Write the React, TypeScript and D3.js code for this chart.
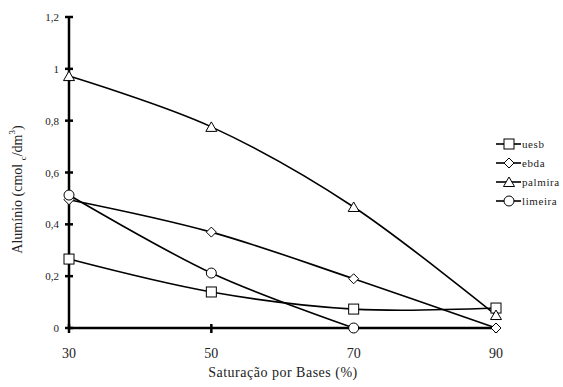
import * as d3 from 'd3'
import { useEffect, useRef } from 'react'

const saturation = [30, 50, 70, 90]
const xTicks = [30, 50, 70, 90]
const yTicks = [0, 0.2, 0.4, 0.6, 0.8, 1, 1.2]

const uesb = [0.266, 0.139, 0.073, 0.077]
const ebda = [0.495, 0.37, 0.19, 0]
const palmira = [0.972, 0.776, 0.467, 0.05]
const limeira = [0.513, 0.212, 0]

const seriesNames = ['uesb', 'ebda', 'palmira', 'limeira']
const seriesValues = [uesb, ebda, palmira, limeira]
const seriesShapes = ['square', 'diamond', 'triangle', 'circle']

const drawMarker = (g, shape: string, cx: number, cy: number) => {
    const common = (sel) => sel.attr('fill', '#fff').attr('stroke', '#000').attr('stroke-width', 1)
    if (shape === 'square') {
        common(g.append('rect').attr('x', cx - 5).attr('y', cy - 5).attr('width', 10).attr('height', 10))
    } else if (shape === 'circle') {
        common(g.append('circle').attr('cx', cx).attr('cy', cy).attr('r', 5))
    } else if (shape === 'diamond') {
        common(g.append('path').attr('d', `M${cx},${cy - 5}L${cx + 5},${cy}L${cx},${cy + 5}L${cx - 5},${cy}Z`))
    } else {
        common(g.append('path').attr('d', `M${cx},${cy - 5}L${cx + 5.5},${cy + 4.5}L${cx - 5.5},${cy + 4.5}Z`))
    }
}

const createLineChart = (el: SVGSVGElement) => {
    const svg = d3.select(el)
    svg.selectAll('*').remove()

    const x = d3.scaleLinear().domain([30, 90]).range([69, 496])
    const y = d3.scaleLinear().domain([0, 1.2]).range([328, 17])

    // Y axis
    svg.append('line')
        .attr('x1', x(30)).attr('x2', x(30))
        .attr('y1', y(1.2)).attr('y2', y(0))
        .attr('stroke', '#000').attr('stroke-width', 2.5)
    yTicks.forEach(t => {
        svg.append('line')
            .attr('x1', x(30) - 4).attr('x2', x(30) + 4)
            .attr('y1', y(t)).attr('y2', y(t))
            .attr('stroke', '#000').attr('stroke-width', 2.5)
        svg.append('text')
            .attr('x', x(30) - 10).attr('y', y(t) + 4)
            .attr('text-anchor', 'end')
            .attr('font-size', '11px')
            .text(String(t).replace('.', ','))
    })

    // X axis
    svg.append('line')
        .attr('x1', x(30)).attr('x2', x(90))
        .attr('y1', y(0)).attr('y2', y(0))
        .attr('stroke', '#000').attr('stroke-width', 2.5)
    xTicks.forEach(t => {
        svg.append('line')
            .attr('x1', x(t)).attr('x2', x(t))
            .attr('y1', y(0) - 4).attr('y2', y(0) + 5)
            .attr('stroke', '#000').attr('stroke-width', 2.5)
        svg.append('text')
            .attr('x', x(t)).attr('y', y(0) + 30)
            .attr('text-anchor', 'middle')
            .attr('font-size', '14px')
            .text(t)
    })

    svg.append('text')
        .attr('x', 283).attr('y', 377)
        .attr('text-anchor', 'middle')
        .attr('font-size', '14px')
        .attr('letter-spacing', '0.5px')
        .text('Saturação por Bases (%)')

    // Y title with sub/superscript
    const yt = svg.append('text')
        .attr('transform', `translate(22,${y(0.6) + 17}) rotate(-90)`)
        .attr('text-anchor', 'middle')
        .attr('font-size', '14px')
    yt.append('tspan').text('Alumínio (cmol ')
    yt.append('tspan').attr('font-size', '9px').attr('dy', 4).text('c')
    yt.append('tspan').attr('dy', -4).text('/dm')
    yt.append('tspan').attr('font-size', '9px').attr('dy', -7).text('3')
    yt.append('tspan').attr('dy', 7).text(')')

    // Series
    const line = d3.line<number>()
        .x((d, i) => x(saturation[i]))
        .y(d => y(d))
        .curve(d3.curveCardinal.tension(0))

    seriesValues.forEach(vals => {
        svg.append('path')
            .datum(vals)
            .attr('d', line)
            .attr('fill', 'none')
            .attr('stroke', '#000')
            .attr('stroke-width', 1.6)
    })
    seriesValues.forEach((vals, si) => {
        vals.forEach((v, i) => drawMarker(svg, seriesShapes[si], x(saturation[i]), y(v)))
    })

    // Legend
    const legendY = [144, 163, 182, 201]
    seriesNames.forEach((name, i) => {
        svg.append('line')
            .attr('x1', 496).attr('x2', 521)
            .attr('y1', legendY[i]).attr('y2', legendY[i])
            .attr('stroke', '#000').attr('stroke-width', 1.6)
        drawMarker(svg, seriesShapes[i], 509, legendY[i])
        svg.append('text')
            .attr('x', 522).attr('y', legendY[i] + 4)
            .attr('font-size', '11px')
            .attr('letter-spacing', '0.6px')
            .text(name)
    })
}

const App = () => {
    const ref = useRef<SVGSVGElement>(null)
    useEffect(() => {
        if (ref.current) createLineChart(ref.current)
    }, [])
    return (
        <svg ref={ref} width={563} height={387}
            style={{ position: 'absolute', left: 0, top: 0, background: '#fff', fontFamily: "'Liberation Serif', 'DejaVu Serif', serif", fill: '#222' }} />
    )
}

export default App
